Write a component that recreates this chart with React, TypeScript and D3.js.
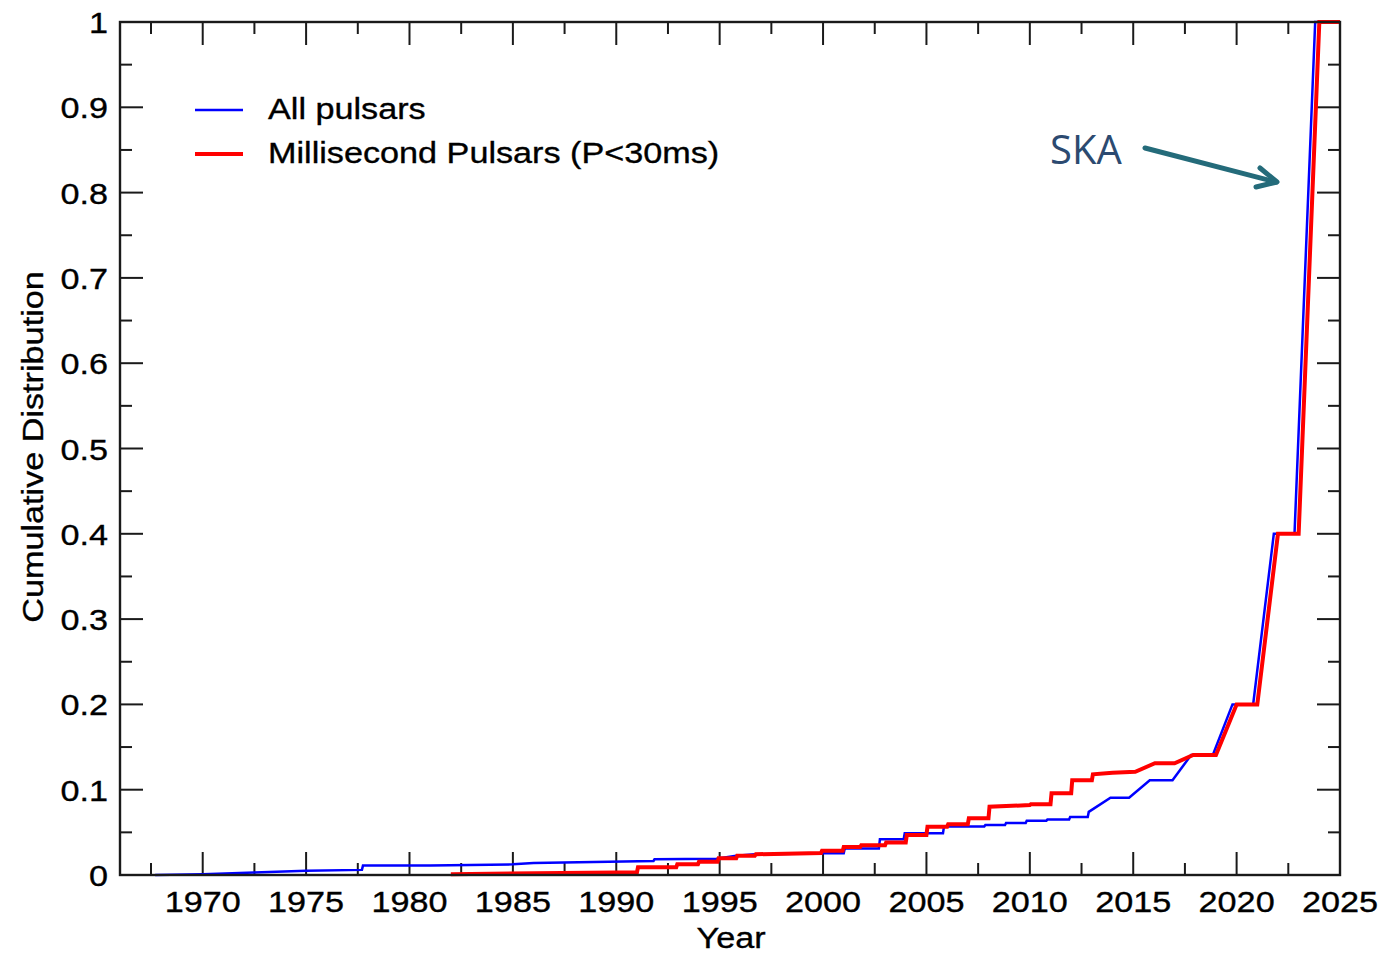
import React from "react";
import * as d3 from "d3";

// Discovery-year cumulative fractions, all pulsars
const allYears = [
  1967.7, 1970, 1972.5, 1975, 1977.7, 1977.75, 1981, 1985, 1986, 1991.8, 1991.85, 1994.85,
  1995.8, 1996.7, 2000, 2001, 2001.05, 2002.7, 2002.75, 2003.9, 2003.95, 2005.8, 2005.85,
  2007.8, 2007.85, 2008.8, 2008.85, 2009.8, 2009.85, 2010.8, 2010.85, 2011.9, 2011.95,
  2012.8, 2012.85, 2013.9, 2014.8, 2015.8, 2016.9, 2017.8, 2018.85, 2019.8, 2020.8,
  2021.8, 2022.8, 2023.8, 2025,
];
const allValues = [
  0.0, 0.001, 0.003, 0.005, 0.006, 0.011, 0.011, 0.0125, 0.014, 0.0164, 0.0184, 0.019,
  0.0226, 0.0243, 0.0254, 0.0254, 0.031, 0.031, 0.042, 0.042, 0.049, 0.049, 0.057,
  0.057, 0.0586, 0.0586, 0.061, 0.061, 0.0637, 0.0637, 0.065, 0.065, 0.068,
  0.068, 0.074, 0.0906, 0.0906, 0.111, 0.111, 0.1407, 0.1407, 0.2, 0.2,
  0.4, 0.4, 1.0, 1.0,
];

// Millisecond pulsars (P < 30 ms)
const mspYears = [
  1982.0, 1990, 1991.0, 1991.05, 1992.9, 1992.95, 1993.95, 1994.0, 1994.9, 1994.95, 1995.8,
  1995.85, 1996.7, 1996.75, 1999.9, 1999.95, 2000.95, 2001.0, 2001.8, 2001.85, 2003.0,
  2003.05, 2004.0, 2004.05, 2005.0, 2005.05, 2006.0, 2006.05, 2007.0, 2007.05, 2008.0,
  2008.05, 2010.0, 2010.05, 2011.0, 2011.05, 2012.0, 2012.05, 2013.0, 2013.05, 2014,
  2015.1, 2016.05, 2017.0, 2017.9, 2019.0, 2020.0, 2021.0, 2022.0, 2023.0, 2024.0, 2025,
];
const mspValues = [
  0.001, 0.003, 0.003, 0.009, 0.009, 0.0125, 0.0125, 0.0156, 0.0156, 0.0195, 0.0195,
  0.0226, 0.0226, 0.0243, 0.0258, 0.0285, 0.0285, 0.0328, 0.0328, 0.035, 0.035,
  0.038, 0.038, 0.047, 0.047, 0.0567, 0.0567, 0.0594, 0.0594, 0.0664, 0.0664,
  0.08, 0.082, 0.083, 0.083, 0.0957, 0.0957, 0.111, 0.111, 0.118, 0.12,
  0.121, 0.131, 0.131, 0.1407, 0.1407, 0.2, 0.2, 0.4, 0.4, 1.0, 1.0,
];

const xMajorTicks = [1970, 1975, 1980, 1985, 1990, 1995, 2000, 2005, 2010, 2015, 2020, 2025];
const xMinorTicks = [1967.5, 1972.5, 1977.5, 1982.5, 1987.5, 1992.5, 1997.5, 2002.5, 2007.5, 2012.5, 2017.5, 2022.5];
const yMajorTicks = [0, 0.1, 0.2, 0.3, 0.4, 0.5, 0.6, 0.7, 0.8, 0.9, 1];
const yTickLabels = ["0", "0.1", "0.2", "0.3", "0.4", "0.5", "0.6", "0.7", "0.8", "0.9", "1"];
const yMinorTicks = [0.05, 0.15, 0.25, 0.35, 0.45, 0.55, 0.65, 0.75, 0.85, 0.95];

const seriesNames = ["All pulsars", "Millisecond Pulsars (P<30ms)"];
const seriesColors = ["#0000ff", "#ff0000"];
const seriesWidths = [2.5, 4];

const W = 1386;
const H = 956;
const FONT = "'Liberation Sans', Arial, Helvetica, sans-serif";
const FS = 30;
const SX = 1.14;
const INK = "#1a1a1a";

function Label({ x, y, anchor = "start", rotate = 0, children, size = FS }: any) {
  return (
    <g transform={`translate(${x},${y}) rotate(${rotate}) scale(${SX},1)`}>
      <text
        textAnchor={anchor}
        fontFamily={FONT}
        fontSize={size}
        fill="#000"
        stroke="#000"
        strokeWidth={0.35}
      >
        {children}
      </text>
    </g>
  );
}

export default function App() {
  const x = d3.scaleLinear().domain([1966, 2025]).range([120, 1340]);
  const y = d3.scaleLinear().domain([0, 1]).range([875, 22]);
  const [x0, x1] = x.range();
  const [y0, y1] = y.range();

  const line = d3
    .line<[number, number]>()
    .x((d) => x(d[0]))
    .y((d) => y(d[1]));

  const allPts = allYears.map((yr, i) => [yr, allValues[i]] as [number, number]);
  const mspPts = mspYears.map((yr, i) => [yr, mspValues[i]] as [number, number]);

  const majLen = 23;
  const minLen = 12;

  return (
    <svg
      width={W}
      height={H}
      style={{ position: "absolute", left: 0, top: 0, background: "#fff" }}
    >
      <rect x={0} y={0} width={W} height={H} fill="#fff" />

      {/* ticks on all four sides, pointing inward */}
      <g stroke={INK} strokeWidth={2}>
        {xMajorTicks.map((t) => (
          <g key={"xM" + t}>
            <line x1={x(t)} x2={x(t)} y1={y0} y2={y0 - majLen} />
            <line x1={x(t)} x2={x(t)} y1={y1} y2={y1 + majLen} />
          </g>
        ))}
        {xMinorTicks.map((t) => (
          <g key={"xm" + t}>
            <line x1={x(t)} x2={x(t)} y1={y0} y2={y0 - minLen} />
            <line x1={x(t)} x2={x(t)} y1={y1} y2={y1 + minLen} />
          </g>
        ))}
        {yMajorTicks.map((t) => (
          <g key={"yM" + t}>
            <line x1={x0} x2={x0 + majLen} y1={y(t)} y2={y(t)} />
            <line x1={x1} x2={x1 - majLen} y1={y(t)} y2={y(t)} />
          </g>
        ))}
        {yMinorTicks.map((t) => (
          <g key={"ym" + t}>
            <line x1={x0} x2={x0 + minLen} y1={y(t)} y2={y(t)} />
            <line x1={x1} x2={x1 - minLen} y1={y(t)} y2={y(t)} />
          </g>
        ))}
      </g>

      {/* series */}
      <path d={line(allPts) || ""} fill="none" stroke={seriesColors[0]} strokeWidth={seriesWidths[0]} />
      <path d={line(mspPts) || ""} fill="none" stroke={seriesColors[1]} strokeWidth={seriesWidths[1]} />

      {/* frame */}
      <rect x={x0} y={y1} width={x1 - x0} height={y0 - y1} fill="none" stroke={INK} strokeWidth={2.4} />

      {/* tick labels */}
      {xMajorTicks.map((t) => (
        <Label key={"xl" + t} x={x(t)} y={912} anchor="middle">
          {String(t)}
        </Label>
      ))}
      {yMajorTicks.map((t, i) => (
        <Label key={"yl" + t} x={108} y={y(t) + 11} anchor="end">
          {yTickLabels[i]}
        </Label>
      ))}

      {/* axis titles */}
      <Label x={731} y={948} anchor="middle">Year</Label>
      <Label x={43} y={447} anchor="middle" rotate={-90}>Cumulative Distribution</Label>

      {/* legend */}
      {seriesNames.map((name, i) => (
        <g key={name}>
          <line
            x1={195}
            x2={243}
            y1={110 + i * 44}
            y2={110 + i * 44}
            stroke={seriesColors[i]}
            strokeWidth={seriesWidths[i]}
          />
          <Label x={268} y={119 + i * 44}>{name}</Label>
        </g>
      ))}

      {/* SKA annotation */}
      <text
        x={1050}
        y={164}
        fontFamily="'Open Sans', 'Noto Sans', sans-serif"
        fontSize={40}
        fill="#2c4a70"
      >
        SKA
      </text>
      <g stroke="#246b7a" strokeWidth={5} strokeLinecap="round" strokeLinejoin="round" fill="none">
        <line x1={1145} y1={148} x2={1276} y2={182} />
        <polyline points="1260,168 1277,182 1256,187" />
      </g>
    </svg>
  );
}
